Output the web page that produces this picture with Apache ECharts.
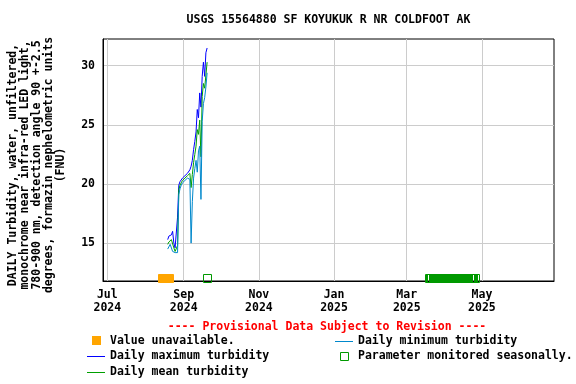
<!DOCTYPE html>
<html>
<head>
<meta charset="utf-8">
<script src="https://cdn.jsdelivr.net/npm/echarts@6/dist/echarts.min.js"></script>
<style>
html,body{margin:0;padding:0;background:#fff;}
#chart{width:576px;height:384px;}
</style>
</head>
<body>
<div id="chart"></div>
<script>
// ---- data ----
const dates = ['2024-08-19','2024-08-20','2024-08-21','2024-08-22','2024-08-23','2024-08-24','2024-08-25','2024-08-26','2024-08-27','2024-08-28','2024-08-29','2024-08-30','2024-08-31','2024-09-01','2024-09-02','2024-09-03','2024-09-04','2024-09-05','2024-09-06','2024-09-07','2024-09-08','2024-09-09','2024-09-10','2024-09-11','2024-09-12','2024-09-13','2024-09-14','2024-09-15','2024-09-16','2024-09-17','2024-09-18','2024-09-19','2024-09-20'];
const maxTurb  = [15.3,15.6,15.5,15.7,16.0,15.0,14.6,14.6,17.2,19.9,20.2,20.3,20.5,20.6,20.7,20.8,20.9,21.0,21.2,21.5,22.0,22.9,23.6,24.4,26.3,25.6,27.7,26.5,29.1,30.3,29.1,31.1,31.5];
const meanTurb = [14.9,15.1,15.2,15.3,15.3,14.6,14.3,14.3,14.8,19.5,19.9,20.1,20.3,20.4,20.5,20.6,20.7,20.8,20.9,19.7,20.8,21.8,22.5,23.2,24.6,24.2,25.4,22.3,27.4,28.5,28.1,29.2,30.3];
const minTurb  = [14.5,14.6,14.9,15.0,14.3,14.2,14.2,14.2,14.2,19.1,19.6,19.9,20.1,20.2,20.3,20.4,20.5,20.6,20.4,15.0,18.5,20.5,21.3,22.0,21.0,22.8,23.2,18.7,25.3,26.8,27.3,28.2,29.4];
const unavailableRanges = [['2024-08-14','2024-08-20']];
const seasonalRanges = [['2024-09-20','2024-09-20'],['2025-03-19','2025-04-25']];
const xTickDates = ['2024-07-01','2024-09-01','2024-11-01','2025-01-01','2025-03-01','2025-05-01'];
const yTickValues = [15,20,25,30];
const xMinDate = '2024-06-27T12:00:00';
const xMaxDate = '2025-06-28T12:00:00';
const yMin = 11.8, yMax = 32.26;

const titleText = 'USGS 15564880 SF KOYUKUK R NR COLDFOOT AK';
const yName = 'DAILY Turbidity, water, unfiltered,\nmonochrome near infra-red LED light,\n780-900 nm, detection angle 90 +-2.5\ndegrees, formazin nephelometric units\n(FNU)';
const months = ['Jan','Feb','Mar','Apr','May','Jun','Jul','Aug','Sep','Oct','Nov','Dec'];

// ---- helpers ----
const t = s => new Date(s.length > 10 ? s : s + 'T00:00:00').getTime();
const DAY = 86400000;
const FONT = '"DejaVu Sans Mono", "Liberation Mono", monospace';
const C_MAX = '#0000ff', C_MEAN = '#00a000', C_MIN = '#0088cc', C_SEAS = '#009900', C_UNAV = '#ffa500';

const pairs = arr => dates.map((d, i) => [t(d), arr[i]]);

function squaresItem(fillMode) {
  return function (params, api) {
    const s = api.value(0), e = api.value(1);
    const yb = api.coord([s, yMin])[1];
    const children = [];
    for (let v = s; v <= e + 1; v += DAY) {
      const x = api.coord([v, yMin])[0];
      children.push({
        type: 'rect',
        shape: { x: Math.round(x - 4) + 0.5, y: Math.round(yb - 7) + 0.5, width: 8, height: 8 },
        style: fillMode === 'fill'
          ? { fill: C_UNAV, stroke: C_UNAV, lineWidth: 1 }
          : { fill: 'none', stroke: C_SEAS, lineWidth: 1 }
      });
    }
    return { type: 'group', children: children };
  };
}

const chart = echarts.init(document.getElementById('chart'), null, { renderer: 'canvas' });
const txt = { fontFamily: FONT, fontWeight: 'bold', fontSize: 11.5, fill: '#000' };

chart.setOption({
  animation: false,
  backgroundColor: '#fff',
  grid: { left: 103, top: 39, width: 451, height: 242, show: true, borderColor: '#000', borderWidth: 1, backgroundColor: 'transparent' },
  xAxis: {
    type: 'value',
    min: t(xMinDate), max: t(xMaxDate),
    axisLine: { show: true, lineStyle: { color: '#000', width: 1 } },
    axisTick: { show: false, customValues: xTickDates.map(t) },
    splitLine: { show: true, lineStyle: { color: '#cccccc', width: 1 } },
    axisLabel: {
      customValues: xTickDates.map(t),
      formatter: function (v) { const d = new Date(v); return months[d.getMonth()] + '\n' + d.getFullYear(); },
      fontFamily: FONT, fontWeight: 'bold', fontSize: 11.5, color: '#000', lineHeight: 13, margin: 8,
      hideOverlap: false
    }
  },
  yAxis: {
    type: 'value',
    min: yMin, max: yMax,
    axisLine: { show: true, lineStyle: { color: '#000', width: 1 } },
    axisTick: { show: false, customValues: yTickValues },
    splitLine: { show: true, lineStyle: { color: '#cccccc', width: 1 } },
    axisLabel: {
      customValues: yTickValues,
      fontFamily: FONT, fontWeight: 'bold', fontSize: 11.5, color: '#000', margin: 8
    }
  },
  series: [
    { name: 'Daily maximum turbidity', type: 'line', data: pairs(maxTurb), showSymbol: false, lineStyle: { color: C_MAX, width: 1 }, itemStyle: { color: C_MAX }, z: 2 },
    { name: 'Daily mean turbidity', type: 'line', data: pairs(meanTurb), showSymbol: false, lineStyle: { color: C_MEAN, width: 1 }, itemStyle: { color: C_MEAN }, z: 3 },
    { name: 'Daily minimum turbidity', type: 'line', data: pairs(minTurb), showSymbol: false, lineStyle: { color: C_MIN, width: 1 }, itemStyle: { color: C_MIN }, z: 4 },
    { name: 'Value unavailable', type: 'custom', renderItem: squaresItem('fill'), clip: false,
      data: unavailableRanges.map(r => [t(r[0]), t(r[1])]), encode: { x: [0, 1] }, z: 5 },
    { name: 'Parameter monitored seasonally', type: 'custom', renderItem: squaresItem('hollow'), clip: false,
      data: seasonalRanges.map(r => [t(r[0]), t(r[1])]), encode: { x: [0, 1] }, z: 5 }
  ],
  graphic: [
    { type: 'text', x: 328.5, y: 20, style: Object.assign({}, txt, { text: titleText, align: 'center', verticalAlign: 'middle' }) },
    { type: 'text', x: 37, y: 165, rotation: Math.PI / 2, style: Object.assign({}, txt, { text: yName, align: 'center', verticalAlign: 'middle', lineHeight: 12 }) },
    { type: 'text', x: 327, y: 327, style: Object.assign({}, txt, { text: '---- Provisional Data Subject to Revision ----', fill: '#ff0000', align: 'center', verticalAlign: 'middle' }) },
    // legend left column
    { type: 'rect', shape: { x: 92, y: 336, width: 9, height: 9 }, style: { fill: C_UNAV } },
    { type: 'text', x: 110, y: 341, style: Object.assign({}, txt, { text: 'Value unavailable.', verticalAlign: 'middle' }) },
    { type: 'line', shape: { x1: 87, y1: 356.5, x2: 105, y2: 356.5 }, style: { stroke: C_MAX, lineWidth: 1 } },
    { type: 'text', x: 110, y: 356.5, style: Object.assign({}, txt, { text: 'Daily maximum turbidity', verticalAlign: 'middle' }) },
    { type: 'line', shape: { x1: 87, y1: 372.5, x2: 105, y2: 372.5 }, style: { stroke: C_MEAN, lineWidth: 1 } },
    { type: 'text', x: 110, y: 372, style: Object.assign({}, txt, { text: 'Daily mean turbidity', verticalAlign: 'middle' }) },
    // legend right column
    { type: 'line', shape: { x1: 335, y1: 341.5, x2: 353, y2: 341.5 }, style: { stroke: C_MIN, lineWidth: 1 } },
    { type: 'text', x: 358, y: 341, style: Object.assign({}, txt, { text: 'Daily minimum turbidity', verticalAlign: 'middle' }) },
    { type: 'rect', shape: { x: 340.5, y: 352.5, width: 8, height: 8 }, style: { fill: 'none', stroke: C_SEAS, lineWidth: 1 } },
    { type: 'text', x: 358, y: 356.5, style: Object.assign({}, txt, { text: 'Parameter monitored seasonally.', verticalAlign: 'middle' }) }
  ]
});
</script>
</body>
</html>
